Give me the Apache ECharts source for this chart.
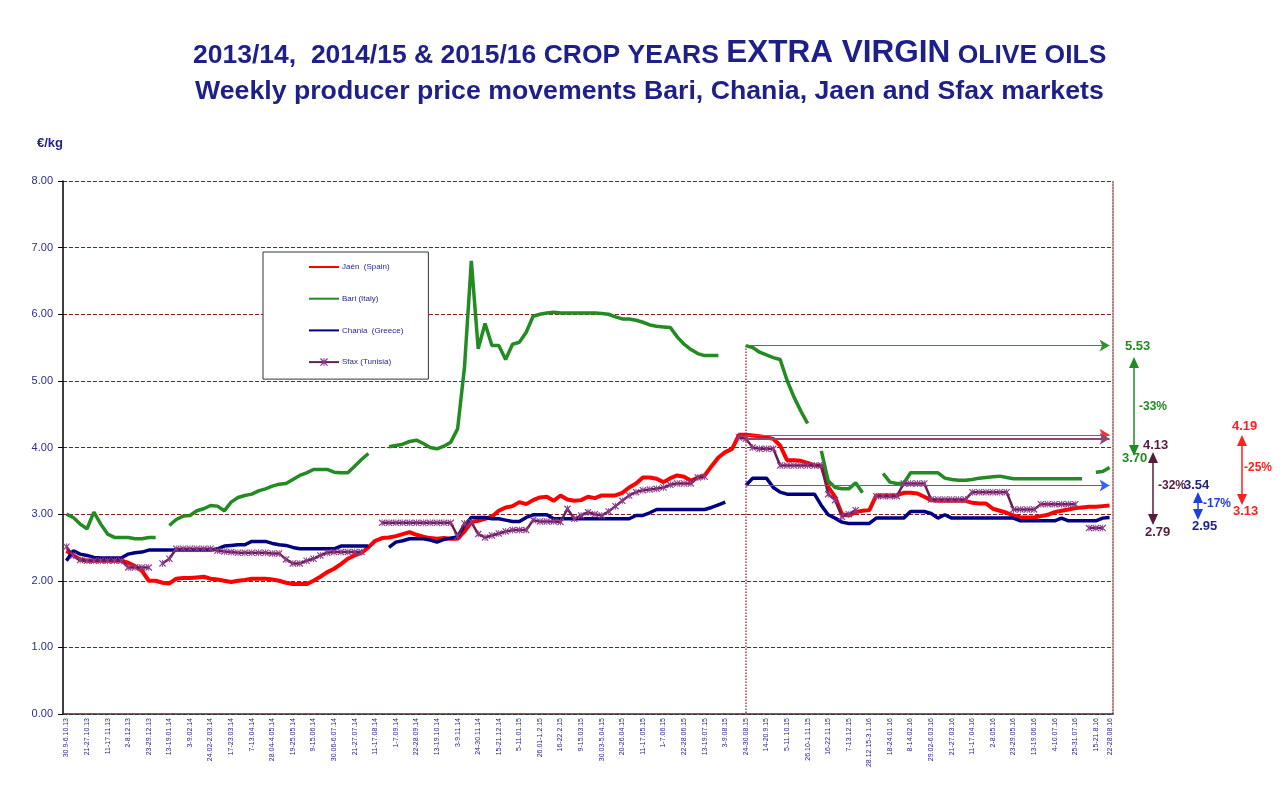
<!DOCTYPE html>
<html>
<head>
<meta charset="utf-8">
<script src="https://cdn.jsdelivr.net/npm/echarts@6/dist/echarts.min.js"></script>
<style>
  html, body { margin: 0; padding: 0; background: #fff; }
  #chart { width: 1285px; height: 810px; }
</style>
</head>
<body>
<div id="chart"></div>
<script>
// tick labels, one every 3 weeks, plus the last week
const tickLabels = [
  '30.9-6.10.13', '21-27.10.13', '11-17.11.13', '2-8.12.13', '23-29.12.13', '13-19.01.14',
  '3-9.02.14', '24.02-2.03.14', '17-23.03.14', '7-13.04.14', '28.04-4.05.14', '19-25.05.14',
  '9-15.06.14', '30.06-6.07.14', '21-27.07.14', '11-17.08.14', '1-7.09.14', '22-28.09.14',
  '13-19.10.14', '3-9.11.14', '24-30.11.14', '15-21.12.14', '5-11.01.15', '26.01-1.2.15',
  '16-22.2.15', '9-15.03.15', '30.03-5.04.15', '20-26.04.15', '11-17.05.15', '1-7.06.15',
  '22-28.06.15', '13-19.07.15', '3-9.08.15', '24-30.08.15', '14-20.9.15', '5-11.10.15',
  '26.10-1.11.15', '16-22.11.15', '7-13.12.15', '28.12.15-3.1.16', '18-24.01.16', '8-14.02.16',
  '29.02-6.03.16', '21-27.03.16', '11-17.04.16', '2-8.05.16', '23-29.05.16', '13-19.06.16',
  '4-10.07.16', '25-31.07.16', '15-21.8.16', '22-28.08.16'
];

// weekly prices, €/kg
const jaen = [
  2.45, 2.38, 2.32, 2.30, 2.30, 2.30, 2.30, 2.30, 2.30, 2.27,
  2.22, 2.15, 2.00, 2.00, 1.97, 1.96, 2.03, 2.04, 2.04, 2.05,
  2.06, 2.03, 2.02, 2.00, 1.98, 2.00, 2.01, 2.03, 2.03, 2.03,
  2.02, 2.00, 1.97, 1.95, 1.95, 1.95, 2.00, 2.06, 2.13, 2.18,
  2.25, 2.33, 2.38, 2.42, 2.50, 2.60, 2.64, 2.65, 2.67, 2.70,
  2.73, 2.69, 2.66, 2.64, 2.63, 2.64, 2.63, 2.63, 2.74, 2.88,
  2.90, 2.93, 2.96, 3.05, 3.10, 3.12, 3.18, 3.15, 3.21, 3.25,
  3.26, 3.20, 3.28, 3.22, 3.20, 3.21, 3.26, 3.24, 3.28, 3.28,
  3.28, 3.32, 3.40, 3.46, 3.55, 3.55, 3.53, 3.48, 3.54, 3.58,
  3.56, 3.50, 3.55, 3.58, 3.72, 3.85, 3.93, 3.98, 4.19, 4.19,
  4.18, 4.17, 4.15, 4.13, 4.03, 3.81, 3.81, 3.80, 3.77, 3.73,
  3.73, 3.41, 3.26, 3.00, 2.98, 3.03, 3.05, 3.06, 3.28, 3.28,
  3.28, 3.28, 3.32, 3.32, 3.31, 3.26, 3.21, 3.20, 3.20, 3.20,
  3.20, 3.20, 3.17, 3.16, 3.16, 3.08, 3.05, 3.02, 2.98, 2.95,
  2.95, 2.95, 2.97, 2.99, 3.03, 3.05, 3.07, 3.09, 3.10, 3.11,
  3.11, 3.12, 3.13
];
const bari = [
  3.00, 2.95, 2.85, 2.78, 3.03, 2.85, 2.70, 2.65, 2.65, 2.65,
  2.63, 2.63, 2.65, 2.65, null, 2.83, 2.92, 2.97, 2.98, 3.05,
  3.08, 3.13, 3.12, 3.05, 3.18, 3.25, 3.28, 3.30, 3.35, 3.38,
  3.42, 3.45, 3.46, 3.52, 3.58, 3.62, 3.67, 3.67, 3.67, 3.63,
  3.62, 3.62, 3.72, 3.82, 3.91, null, null, 4.01, 4.03, 4.05,
  4.09, 4.11, 4.06, 4.00, 3.98, 4.02, 4.08, 4.28, 5.20, 6.80,
  5.48, 5.86, 5.53, 5.53, 5.32, 5.55, 5.58, 5.73, 5.97, 6.00,
  6.02, 6.03, 6.02, 6.02, 6.02, 6.02, 6.02, 6.02, 6.01, 6.00,
  5.96, 5.93, 5.93, 5.91, 5.88, 5.84, 5.82, 5.81, 5.80, 5.66,
  5.55, 5.47, 5.41, 5.38, 5.38, 5.38, null, null, null, 5.53,
  5.50, 5.43, 5.39, 5.35, 5.32, 5.01, 4.76, 4.55, 4.36, null,
  3.95, 3.50, 3.40, 3.38, 3.38, 3.47, 3.32, null, null, 3.61,
  3.48, 3.46, 3.46, 3.62, 3.62, 3.62, 3.62, 3.62, 3.54, 3.52,
  3.51, 3.51, 3.52, 3.54, 3.55, 3.56, 3.57, 3.55, 3.53, 3.53,
  3.53, 3.53, 3.53, 3.53, 3.53, 3.53, 3.53, 3.53, 3.53, null,
  3.63, 3.64, 3.70
];
const chania = [
  2.30, 2.45, 2.40, 2.38, 2.35, 2.34, 2.34, 2.34, 2.34, 2.40,
  2.42, 2.43, 2.46, 2.46, 2.46, 2.46, 2.46, 2.46, 2.46, 2.46,
  2.46, 2.46, 2.48, 2.52, 2.53, 2.54, 2.54, 2.59, 2.59, 2.59,
  2.56, 2.54, 2.53, 2.50, 2.48, 2.48, 2.48, 2.48, 2.48, 2.48,
  2.52, 2.52, 2.52, 2.52, 2.52, null, null, 2.50, 2.58, 2.60,
  2.63, 2.63, 2.63, 2.61, 2.58, 2.62, 2.64, 2.66, 2.83, 2.95,
  2.95, 2.95, 2.93, 2.93, 2.91, 2.89, 2.89, 2.95, 2.99, 2.99,
  2.99, 2.93, 2.93, 2.93, 2.93, 2.93, 2.93, 2.93, 2.93, 2.93,
  2.93, 2.93, 2.93, 2.98, 2.98, 3.02, 3.07, 3.07, 3.07, 3.07,
  3.07, 3.07, 3.07, 3.07, 3.10, 3.14, 3.18, null, null, 3.43,
  3.54, 3.54, 3.54, 3.40, 3.33, 3.30, 3.30, 3.30, 3.30, 3.30,
  3.13, 2.99, 2.94, 2.88, 2.86, 2.86, 2.86, 2.86, 2.94, 2.94,
  2.94, 2.94, 2.94, 3.04, 3.04, 3.04, 3.01, 2.94, 2.99, 2.94,
  2.94, 2.94, 2.94, 2.94, 2.94, 2.94, 2.94, 2.94, 2.94, 2.90,
  2.90, 2.90, 2.90, 2.90, 2.90, 2.94, 2.90, 2.90, 2.90, 2.90,
  2.90, 2.94, 2.95
];
const sfax = [
  2.51, 2.38, 2.31, 2.30, 2.30, 2.30, 2.30, 2.30, 2.30, 2.20,
  2.20, 2.20, 2.20, null, 2.26, 2.33, 2.48, 2.48, 2.48, 2.48,
  2.48, 2.48, 2.45, 2.44, 2.43, 2.42, 2.42, 2.42, 2.42, 2.42,
  2.41, 2.41, 2.32, 2.26, 2.26, 2.30, 2.33, 2.38, 2.42, 2.43,
  2.43, 2.43, 2.43, 2.43, null, null, 2.87, 2.87, 2.87, 2.87,
  2.87, 2.87, 2.87, 2.87, 2.87, 2.87, 2.87, 2.67, 2.86, 2.88,
  2.70, 2.65, 2.68, 2.71, 2.74, 2.76, 2.76, 2.76, 2.91, 2.89,
  2.89, 2.89, 2.88, 3.08, 2.93, 2.98, 3.03, 3.00, 2.98, 3.04,
  3.12, 3.20, 3.28, 3.33, 3.36, 3.37, 3.38, 3.40, 3.44, 3.46,
  3.46, 3.46, 3.55, 3.56, null, null, null, null, 4.15, 4.13,
  4.00, 3.98, 3.98, 3.98, 3.73, 3.73, 3.73, 3.73, 3.73, 3.73,
  3.73, 3.30, 3.21, 2.96, 3.00, 3.06, null, null, 3.27, 3.27,
  3.27, 3.27, 3.46, 3.46, 3.46, 3.46, 3.22, 3.22, 3.22, 3.22,
  3.22, 3.22, 3.33, 3.33, 3.33, 3.33, 3.33, 3.33, 3.07, 3.07,
  3.07, 3.07, 3.15, 3.15, 3.15, 3.15, 3.15, 3.15, null, 2.79,
  2.79, 2.79, null
];

// start of the 2015/16 crop year (24-30.08.15)
const startWeek = 99;
// change from start of 2015/16 to last week: [from, to, text]
const changeBari = ['5.53', '3.70', '-33%'];
const changeSfax = ['4.13', '2.79', '-32%'];
const changeChania = ['3.54', '2.95', '-17%'];
const changeJaen = ['4.19', '3.13', '-25%'];

const navy = '#1f1f8a';
const starPath = 'path://M4.4,0L5.6,0L5.6,10L4.4,10Z M0,1.2L1.2,0L10,8.8L8.8,10Z M8.8,0L10,1.2L1.2,10L0,8.8Z';

const weeks = jaen.map((v, i) => String(i));
const weekLabel = i => {
  if (i === weeks.length - 1) return tickLabels[tickLabels.length - 1];
  if (i % 3 === 0 && i / 3 < tickLabels.length - 1) return tickLabels[i / 3];
  return '';
};

const myChart = echarts.init(document.getElementById('chart'));

// arrow from the start week to the right edge
function startArrow(values, color, width) {
  return {
    silent: true,
    symbol: ['none', 'arrow'],
    symbolSize: [9, 10],
    label: { show: false },
    lineStyle: { color: color, width: width, type: 'solid' },
    data: [[
      { coord: [String(startWeek), values[startWeek]] },
      { coord: [weeks[weeks.length - 1], values[startWeek]] }
    ]]
  };
}

// little double arrow with texts, drawn outside the plot
function changeNote(x, y1, y2, color) {
  return {
    type: 'group',
    children: [
      { type: 'line', shape: { x1: x, y1: y1 + 6, x2: x, y2: y2 - 6 }, style: { stroke: color, lineWidth: 1.5 } },
      { type: 'polygon', shape: { points: [[x, y1 - 2], [x - 5, y1 + 9], [x + 5, y1 + 9]] }, style: { fill: color } },
      { type: 'polygon', shape: { points: [[x, y2 + 2], [x - 5, y2 - 9], [x + 5, y2 - 9]] }, style: { fill: color } }
    ]
  };
}
function note(text, x, y, color, size) {
  return {
    type: 'text', left: x, top: y - 8,
    style: { text: text, fill: color, font: 'bold ' + (size || 13) + 'px "Liberation Sans", Arial, sans-serif' }
  };
}

// plain line in the legend, no dot
const noDot = { opacity: 0 };

myChart.setOption({
  animation: false,
  backgroundColor: '#fff',
  textStyle: { fontFamily: '"Liberation Sans", Arial, sans-serif' },
  title: [
    {
      left: 188, top: 32,
      text: '{a|2013/14,  2014/15 & 2015/16 CROP YEARS }{b|EXTRA VIRGIN}{a| OLIVE OILS}',
      textStyle: {
        rich: {
          a: { fontSize: 26.5, fontWeight: 'bold', color: navy, verticalAlign: 'bottom' },
          b: { fontSize: 31.5, fontWeight: 'bold', color: navy, verticalAlign: 'bottom' }
        }
      }
    },
    {
      left: 190, top: 73,
      text: 'Weekly producer price movements Bari, Chania, Jaen and Sfax markets',
      textStyle: { fontSize: 26.7, fontWeight: 'bold', color: navy }
    },
    {
      left: 32, top: 132, text: '€/kg',
      textStyle: { fontSize: 13, fontWeight: 'bold', color: navy }
    }
  ],
  legend: {
    orient: 'vertical',
    left: 263, top: 252,
    padding: [11, 25, 13, 45],
    itemGap: 23.7,
    itemWidth: 30, itemHeight: 10,
    backgroundColor: '#fff',
    borderColor: '#333', borderWidth: 1,
    textStyle: { fontSize: 8, color: navy, padding: [0, 0, 0, -2] },
    data: [
      { name: 'Jaén  (Spain)', itemStyle: noDot },
      { name: 'Bari (Italy)', itemStyle: noDot },
      { name: 'Chania  (Greece)', itemStyle: noDot },
      { name: 'Sfax (Tunisia)' }
    ]
  },
  grid: { left: 63, right: 172, top: 181, bottom: 96 },
  xAxis: {
    type: 'category',
    data: weeks,
    boundaryGap: true,
    axisLine: { lineStyle: { color: '#333', width: 1.5 } },
    axisTick: { interval: 0, length: 3, lineStyle: { color: '#333' } },
    axisLabel: {
      interval: 0, rotate: 90, fontSize: 7, color: navy, margin: 4,
      formatter: (v) => weekLabel(Number(v))
    },
    splitLine: { show: false }
  },
  yAxis: [
    {
      type: 'value', min: 0, max: 8, interval: 1,
      axisLine: { show: true, lineStyle: { color: '#000', width: 1.5 } },
      axisTick: { show: true, length: 5, lineStyle: { color: '#000' } },
      axisLabel: { fontSize: 11, color: '#2b2b90', formatter: v => v.toFixed(2), margin: 10 },
      splitLine: { lineStyle: { color: '#8b1a1a', type: [4, 2], width: 1 } }
    },
    {
      type: 'value', min: 0, max: 8, position: 'right',
      axisLine: { show: true, lineStyle: { color: '#a05555', type: 'dotted', width: 1.5 } },
      axisTick: { show: false }, axisLabel: { show: false }, splitLine: { show: false }
    }
  ],
  series: [
    {
      name: 'Jaén  (Spain)', type: 'line', data: jaen,
      showSymbol: false, symbol: 'none',
      color: '#ff0000', lineStyle: { color: '#ff0000', width: 4 },
      markLine: startArrow(jaen, '#ff3030', 1.2)
    },
    {
      name: 'Bari (Italy)', type: 'line', data: bari,
      showSymbol: false, symbol: 'none',
      color: '#228b22', lineStyle: { color: '#228b22', width: 3.5 },
      markLine: {
        silent: true,
        label: { show: false },
        data: [
          [
            { coord: [String(startWeek), bari[startWeek]], symbol: 'none' },
            { coord: [weeks[weeks.length - 1], bari[startWeek]], symbol: 'arrow', symbolSize: [9, 10] }
          ],
          [
            { coord: [String(startWeek), bari[startWeek]], symbol: 'none', lineStyle: { color: '#a04040', type: 'dotted', width: 1.5 } },
            { coord: [String(startWeek), 0], symbol: 'none' }
          ]
        ],
        lineStyle: { color: '#2f922f', width: 1.2, type: 'solid' }
      }
    },
    {
      name: 'Chania  (Greece)', type: 'line', data: chania,
      showSymbol: false, symbol: 'none',
      color: '#000080', lineStyle: { color: '#000080', width: 3.5 },
      markLine: startArrow(chania, '#3366ee', 1.2)
    },
    {
      name: 'Sfax (Tunisia)', type: 'line', data: sfax,
      symbol: starPath, symbolSize: 7, showSymbol: true,
      color: '#8e3a8e',
      itemStyle: { color: '#8e3a8e' },
      lineStyle: { color: '#661f50', width: 2.5 },
      markLine: startArrow(sfax, '#8a4a72', 2)
    }
  ],
  graphic: [
    note(changeBari[0], 1125, 348, '#228b22'),
    changeNote(1134, 359, 454, '#228b22'),
    note(changeBari[2], 1139, 409, '#228b22', 12),
    note(changeBari[1], 1122, 460, '#228b22'),
    note(changeSfax[0], 1143, 447, '#5a1a3e'),
    changeNote(1153, 454, 523, '#5a1a3e'),
    note(changeSfax[2], 1158, 488, '#5a1a3e', 12),
    note(changeSfax[1], 1145, 534, '#5a1a3e'),
    note(changeChania[0], 1184, 487, '#1f1f8a'),
    changeNote(1198, 494, 518, '#1f3fe0'),
    note(changeChania[2], 1203, 506, '#1f3fe0', 12),
    note(changeChania[1], 1192, 528, '#1f1f8a'),
    note(changeJaen[0], 1232, 428, '#ff2020'),
    changeNote(1242, 437, 503, '#ff2020'),
    note(changeJaen[2], 1244, 470, '#ff2020', 12),
    note(changeJaen[1], 1233, 513, '#ff2020')
  ]
});
</script>
</body>
</html>
